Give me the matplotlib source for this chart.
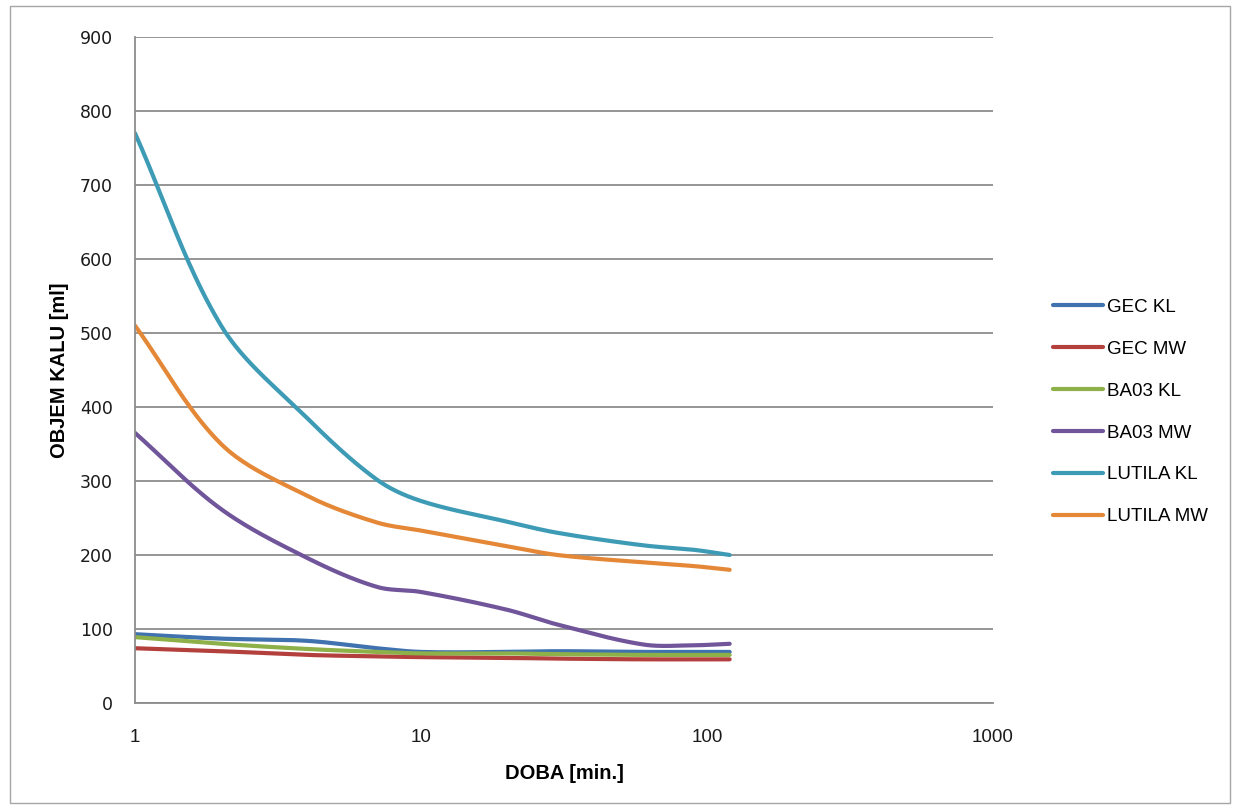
#!/usr/bin/env python3

import numpy as np
from matplotlib import pyplot as plt
from matplotlib.patches import Rectangle


# sampling times [min]
doba = [1, 2, 4, 7, 10, 20, 30, 60, 90, 120]

# sludge volume [ml]
gec_kl = [93, 87, 84, 74, 69, 69, 70, 69, 69, 69]
gec_mw = [74, 70, 65, 63, 62, 61, 60, 59, 59, 59]
ba03_kl = [89, 80, 73, 69, 67, 67, 66, 65, 65, 65]
ba03_mw = [365, 262, 196, 157, 150, 126, 106, 79, 78, 80]
lutila_kl = [770, 510, 385, 302, 273, 245, 230, 213, 207, 200]
lutila_mw = [510, 350, 280, 244, 233, 212, 200, 190, 185, 180]

series = ["GEC KL", "GEC MW", "BA03 KL", "BA03 MW", "LUTILA KL", "LUTILA MW"]
values = [gec_kl, gec_mw, ba03_kl, ba03_mw, lutila_kl, lutila_mw]
colors = ["#3f72ae", "#b3403d", "#8db048", "#71559a", "#3d9bb6", "#e48838"]


def smooth(x, y, n=40):
    # Hermite/Bezier curve through the points in screen-like space (log x),
    # chord-length parametrised so uneven spacing gives no kinks
    pts = np.column_stack([np.log10(x) * 286.0,
                           np.asarray(y, dtype=float) * 0.74])
    d = np.hypot(*np.diff(pts, axis=0).T)
    s = np.concatenate([[0], np.cumsum(d)])
    m = np.empty_like(pts)
    m[0] = (pts[1] - pts[0]) / d[0]
    m[-1] = (pts[-1] - pts[-2]) / d[-1]
    m[1:-1] = (pts[2:] - pts[:-2]) / (s[2:] - s[:-2])[:, None]
    t = np.linspace(0, 1, n)[:, None]
    out = []
    for i in range(len(pts) - 1):
        p1, p2 = pts[i], pts[i + 1]
        c1 = p1 + m[i] * d[i] / 3.0
        c2 = p2 - m[i + 1] * d[i] / 3.0
        seg = ((1 - t) ** 3 * p1 + 3 * (1 - t) ** 2 * t * c1
               + 3 * (1 - t) * t ** 2 * c2 + t ** 3 * p2)
        out.append(seg if i == 0 else seg[1:])
    out = np.vstack(out)
    return 10 ** (out[:, 0] / 286.0), out[:, 1] / 0.74


fig = plt.figure(figsize=(12.33, 8.09), dpi=100)
fig.patches.append(Rectangle((10 / 1233, 6 / 809), 1220 / 1233, 797 / 809,
                             transform=fig.transFigure, fill=False,
                             edgecolor="#a6a6a6", lw=1.0))

ax = fig.add_axes([135 / 1233, 1 - 703 / 809, 858 / 1233, 666 / 809])

for name, vals, color in zip(series, values, colors):
    xs, ys = smooth(doba, vals)
    ax.plot(xs, ys, color=color, lw=3.0, label=name, solid_capstyle="round")

ax.set_xscale("log")
ax.set_xlim(1, 1000)
ax.set_ylim(0, 900)
ax.set_yticks(range(0, 901, 100))
ax.set_xticks([1, 10, 100, 1000])
ax.set_xticklabels(["1", "10", "100", "1000"])
ax.minorticks_off()
ax.grid(axis="y", color="#8c8c8c", lw=1.3)
ax.set_axisbelow(True)

for side in ["top", "right"]:
    ax.spines[side].set_visible(False)
for side in ["left", "bottom"]:
    ax.spines[side].set_color("#8c8c8c")
    ax.spines[side].set_linewidth(1.3)

ax.tick_params(axis="both", length=0, colors="#1a1a1a")
ax.tick_params(axis="y", pad=16, labelsize=12.5)
ax.tick_params(axis="x", pad=19, labelsize=13.5)
for lab in ax.get_yticklabels():
    lab.set_family("DejaVu Sans")
for lab in ax.get_xticklabels():
    lab.set_family("Liberation Sans")

ax.set_ylabel("OBJEM KALU [ml]", fontsize=14.5, fontweight="bold",
              family="Liberation Sans", labelpad=8)
ax.set_xlabel("DOBA [min.]", fontsize=14.5, fontweight="bold",
              family="Liberation Sans", labelpad=13)

fig.legend(loc="center left", bbox_to_anchor=(1045 / 1233, 1 - 412 / 809),
           frameon=False, prop={"family": "Liberation Sans", "size": 13.5},
           handlelength=2.7, handletextpad=0.2, labelspacing=1.32,
           borderaxespad=0)

plt.savefig("out.png", dpi=100)
